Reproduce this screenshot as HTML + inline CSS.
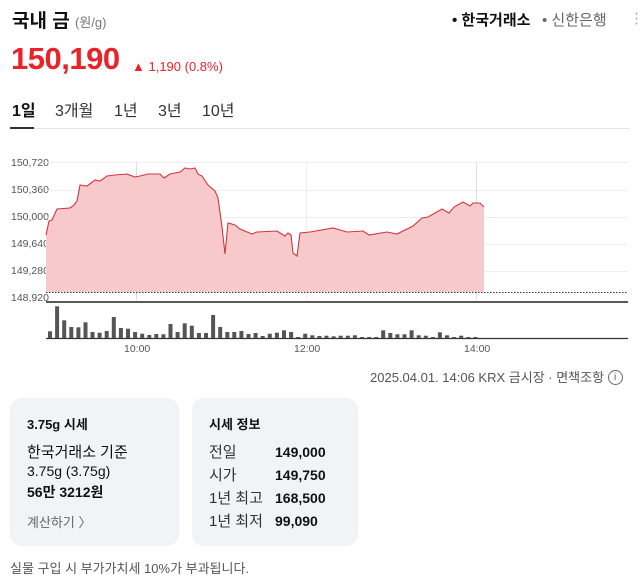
<!DOCTYPE html>
<html><head><meta charset="utf-8"><style>
body{margin:0;width:640px;height:582px;background:#fff;font-family:"Liberation Sans","Noto Sans CJK KR",sans-serif;color:#111;position:relative;overflow:hidden}
.a{position:absolute;white-space:nowrap}
.card{position:absolute;background:#f2f3f7;border-radius:12px}
</style></head><body>
<div class="a" style="left:12px;top:6px;font-size:19px;font-weight:bold">국내 금 <span style="font-size:13px;font-weight:normal;color:#777">(원/g)</span></div>
<div class="a" style="left:452px;top:9px;font-size:15px;font-weight:bold">• 한국거래소</div>
<div class="a" style="left:542px;top:9px;font-size:15px;color:#666">• 신한은행</div>
<div class="a" style="left:629px;top:9px;font-size:15px;color:#aaa">⋮</div>
<div class="a" style="left:11px;top:41px;font-size:31px;font-weight:bold;color:#e8232a;letter-spacing:-0.5px">150,190</div>
<div class="a" style="left:132px;top:59px;font-size:13px;color:#e8232a">▲ 1,190 (0.8%)</div>
<div class="a" style="left:12px;top:97px;font-size:16px;font-weight:bold">1일</div>
<div class="a" style="left:55px;top:97px;font-size:16px;color:#333">3개월</div>
<div class="a" style="left:114px;top:97px;font-size:16px;color:#333">1년</div>
<div class="a" style="left:158px;top:97px;font-size:16px;color:#333">3년</div>
<div class="a" style="left:202px;top:97px;font-size:16px;color:#333">10년</div>
<div class="a" style="left:10px;top:128px;width:620px;height:1px;background:#e4e4e4"></div>
<div class="a" style="left:10px;top:127px;width:24px;height:2px;background:#333"></div>
<svg class="a" style="left:0;top:0" width="640" height="360" id="ch">
<g font-size="10.5" fill="#555" font-family="Liberation Sans,sans-serif">
<text x="11" y="166">150,720</text><text x="11" y="193">150,360</text><text x="11" y="220">150,000</text>
<text x="11" y="247">149,640</text><text x="11" y="274">149,280</text><text x="11" y="301">148,920</text>
<text x="124" y="352">10:00</text><text x="294" y="352">12:00</text><text x="464" y="352">14:00</text>
</g>
<g stroke="#eee" stroke-width="1">
<line x1="46" y1="162.5" x2="628" y2="162.5"/><line x1="46" y1="190.5" x2="628" y2="190.5"/><line x1="46" y1="217.5" x2="628" y2="217.5"/><line x1="46" y1="244.5" x2="628" y2="244.5"/><line x1="46" y1="271.5" x2="628" y2="271.5"/>
<line x1="136.5" y1="162" x2="136.5" y2="300" stroke="#ddd"/><line x1="306.5" y1="162" x2="306.5" y2="300"/><line x1="476.5" y1="162" x2="476.5" y2="300" stroke="#ddd"/>
</g>
<polygon fill="#f7c9cb" points="46,292 46,235 49,221 52,220 57,209 70,208 74,205 77,201 80,185 87,186 95,180 100,181 107,176 115,175 127,174 135,177 140,176 148,174 160,174 164,178 170,174 180,172 185,168 190,169 195,168 198,174 202,176 208,185 215,191 218,198 222,227 225,254 228,223 235,225 240,229 252,234 257,232 277,231 285,236 288,233 291,235 293,253 297,256 300,233 310,232 333,228 347,232 363,231 369,235 387,232 397,234 413,226 422,218 428,217 442,209 449,213 454,207 463,202 470,206 473,203 480,203 484,207 484,292"/>
<polyline fill="none" stroke="#d0363d" stroke-width="1.1" points="46,235 49,221 52,220 57,209 70,208 74,205 77,201 80,185 87,186 95,180 100,181 107,176 115,175 127,174 135,177 140,176 148,174 160,174 164,178 170,174 180,172 185,168 190,169 195,168 198,174 202,176 208,185 215,191 218,198 222,227 225,254 228,223 235,225 240,229 252,234 257,232 277,231 285,236 288,233 291,235 293,253 297,256 300,233 310,232 333,228 347,232 363,231 369,235 387,232 397,234 413,226 422,218 428,217 442,209 449,213 454,207 463,202 470,206 473,203 480,203 484,207"/>
<line x1="46" y1="292.5" x2="628" y2="292.5" stroke="#333" stroke-dasharray="1.5,1.5"/>
<line x1="46" y1="302" x2="628" y2="302" stroke="#222" stroke-width="1.5"/>
<line x1="46" y1="338.5" x2="628" y2="338.5" stroke="#333" stroke-width="1.2"/>
<g id="bars" fill="#555"></g>
</svg>
<script>
var t=[95,20,62,82,83,68,97,99,94,52,85,87,97,102,106,103,104,73,97,71,78,100,100,46,82,97,97,94,103,100,109,102,99,92,97,112,102,107,109,108,110,108,108,107,112,112,112,92,100,104,104,92,107,108,112,98,107,112,108,112,112];
var s='';for(var i=0;i<t.length;i++){var h=(115-t[i])/3;var x=48+i*7.09;s+='<rect x="'+x.toFixed(1)+'" y="'+(338-h).toFixed(1)+'" width="4" height="'+h.toFixed(1)+'"/>';}
document.getElementById('bars').innerHTML=s;
</script>
<div class="a" style="left:370px;top:370px;font-size:13px;color:#555;line-height:16px">2025.04.01. 14:06 KRX 금시장 · 면책조항 <span style="display:inline-block;width:13px;height:13px;border:1px solid #666;border-radius:50%;font-size:10px;text-align:center;line-height:13px;vertical-align:middle;position:relative;top:-1px">i</span></div>
<div class="card" style="left:10px;top:398px;width:169px;height:148px"></div>
<div class="card" style="left:192px;top:398px;width:166px;height:148px"></div>
<div class="a" style="left:27px;top:414px;font-size:13px;font-weight:bold">3.75g 시세</div>
<div class="a" style="left:27px;top:441px;font-size:15px">한국거래소 기준</div>
<div class="a" style="left:27px;top:463px;font-size:14px">3.75g (3.75g)</div>
<div class="a" style="left:27px;top:482px;font-size:14px;font-weight:bold">56만 3212원</div>
<div class="a" style="left:27px;top:512px;font-size:13px;color:#666">계산하기 〉</div>
<div class="a" style="left:209px;top:414px;font-size:13px;font-weight:bold">시세 정보</div>
<div class="a" style="left:209px;top:441px;font-size:15px;color:#333;line-height:23px">전일<br>시가<br>1년 최고<br>1년 최저</div>
<div class="a" style="left:275px;top:441px;font-size:14px;font-weight:bold;line-height:23px">149,000<br>149,750<br>168,500<br>99,090</div>
<div class="a" style="left:10px;top:558px;font-size:13px;color:#555">실물 구입 시 부가가치세 10%가 부과됩니다.</div>
</body></html>
